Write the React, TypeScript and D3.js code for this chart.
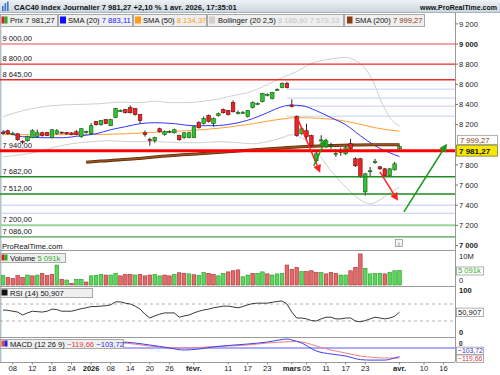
import React from "react";
import * as d3 from "d3";

// ---------- DATA ----------
const OPEN = [8122,8139,8110,8109,8035,8040,8070,8080,8119,8120,8070,8110,8125,8120,8118,8129,8080,8128,8109,8229,8199,8249,8189,8269,8336,8348,8368,8358,8299,8119,8052,8040,8159,8100,8128,8119,8090,8070,8070,8070,8219,8209,8289,8209,8289,8348,8338,8418,8316,8318,8279,8368,8406,8428,8496,8458,8540,8567,8607,8395,8279,8109,8139,8090,7841,8040,7980,7988,7908,7928,7910,8010,7861,7861,7532,7738,7829,7781,7761,7692,7751,7960];
const HIGH = [8140,8150,8130,8115,8045,8090,8155,8150,8130,8128,8155,8155,8130,8128,8125,8145,8165,8140,8215,8235,8245,8255,8258,8365,8350,8352,8390,8365,8305,8140,8070,8080,8170,8140,8145,8160,8100,8125,8130,8185,8235,8280,8300,8270,8320,8360,8345,8440,8340,8335,8345,8430,8420,8515,8510,8525,8560,8620,8625,8450,8290,8179,8209,8100,7930,8095,8060,8020,7940,7970,7985,8060,7875,7870,7720,7780,7860,7790,7770,7770,7830,7990];
const LOW = [8100,8100,8095,8040,8005,8030,8065,8075,8080,8085,8065,8100,8108,8100,8095,8095,8070,8110,8100,8190,8190,8205,8185,8265,8325,8310,8310,8290,8210,8080,7990,8020,8120,8090,8115,8110,8040,8060,8065,8065,8160,8200,8220,8180,8280,8310,8290,8320,8300,8305,8270,8360,8395,8420,8480,8450,8535,8560,8560,8370,8080,8100,8040,7980,7811,8020,7970,7960,7880,7890,7900,7950,7780,7670,7495,7680,7810,7750,7685,7685,7745,7950];
const CLOSE = [8116,8109,8113,8050,8025,8080,8139,8119,8090,8092,8149,8139,8115,8108,8100,8100,8159,8131,8189,8199,8239,8209,8249,8358,8340,8318,8318,8299,8239,8100,8048,8070,8129,8129,8130,8149,8050,8119,8119,8179,8169,8259,8229,8259,8308,8318,8299,8328,8320,8322,8338,8418,8410,8507,8500,8517,8550,8607,8567,8380,8090,8159,8080,7990,7910,8048,8040,7992,7912,7932,7970,7960,7791,7682,7711,7742,7833,7761,7692,7761,7811,7981.27];
// volume in millions, and colour flag (1 = green, 0 = red)
const VOLUME = [3.3,2.7,2.3,3.3,2.7,3.5,3.2,3.5,4.1,3.4,3.7,7.0,2.0,1.75,0.6,2.0,2.0,1.05,3.2,3.4,3.7,3.5,3.5,4.1,3.2,3.7,3.7,3.5,3.7,3.2,3.5,3.7,3.2,3.5,3.2,3.7,4.3,4.1,3.9,3.6,3.4,4.4,4.1,3.7,3.2,4.1,4.6,5.0,5.3,2.9,3.5,4.1,4.1,4.6,3.9,3.5,3.9,4.1,7.0,5.5,6.2,4.7,4.7,5.0,4.4,4.4,3.9,4.4,4.1,3.5,3.5,5.0,6.2,10.9,5.85,3.9,4.1,4.1,3.9,4.4,5.0,5.091];
const VOL_UP = [1,0,0,0,0,1,0,1,0,0,0,1,0,1,0,1,1,0,1,1,1,0,1,1,0,0,0,1,0,0,0,1,1,0,0,1,0,0,1,0,1,1,0,0,1,1,0,0,0,1,1,0,1,1,0,1,1,1,0,0,0,1,0,0,0,1,0,0,0,1,1,0,0,0,1,1,1,1,0,1,1,1];
const RSI = [56,55,53,51,44,49,53,52,51,53,58,57,53,53,53,56,59,61,64,64,65,66,68,75,75,72,70,65,58,46,37,42,46,49,49,49,39,42,44,49,53,56,58,61,63,65,65,63,61,64,68,71,72,72,72,74,76,77,70,51,37,37,35,31,30,35,39,39,35,35,37,37,30,28,31,35,39,37,35,37,41,50.907];
// [bar index, value]
const SMA20: [number, number][] = [[0,8139],[4,8080],[8,8070],[12,8070],[16,8090],[19,8109],[22,8149],[25,8179],[28,8209],[31,8219],[35,8209],[39,8189],[43,8189],[47,8209],[51,8259],[54,8318],[57,8378],[59,8393],[61,8388],[64,8338],[67,8269],[70,8199],[73,8090],[76,7990],[79,7920],[81,7883.11]];
const SMA50: [number, number][] = [[0,8100],[8,8100],[16,8100],[25,8109],[31,8124],[39,8144],[45,8169],[51,8209],[56,8249],[60,8269],[64,8264],[68,8249],[72,8214],[76,8169],[81,8134.37]];
const BB_UP: [number, number][] = [[0,8279],[4,8338],[7,8368],[10,8388],[14,8398],[20,8408],[24,8423],[28,8418],[31,8433],[34,8418],[38,8418],[41,8433],[44,8453],[47,8488],[50,8517],[54,8597],[57,8667],[60,8726],[63,8806],[67,8851],[70,8866],[72,8836],[74,8756],[76,8587],[77,8458],[78,8358],[79,8269],[80,8219],[81,8186.9]];
const BB_LO: [number, number][] = [[0,7881],[2,7891],[5,7910],[8,7940],[10,7970],[14,8010],[18,8030],[22,8040],[26,8030],[32,8030],[36,8020],[40,8020],[44,8030],[48,8020],[51,8010],[54,8030],[57,8070],[59,8100],[61,8070],[63,7990],[65,7871],[67,7741],[69,7632],[71,7532],[73,7453],[75,7413],[77,7453],[79,7522],[81,7579.33]];
const SMA200: [number, number][] = [[17,7826],[20,7838],[27,7861],[34,7891],[40,7910],[46,7930],[50,7945],[56,7965],[61,7980],[66,7990],[71,7997],[76,8000],[81,7999.27]];
const MACD_RED: [number, number][] = [[0,50],[6,50],[12,52],[18,58],[24,60],[30,24],[34,6],[37,0],[40,6],[43,18],[46,24],[50,36],[54,60],[57,72],[60,78],[62,60],[64,24],[67,-24],[70,-60],[73,-96],[76,-114],[78,-120],[81,-119.66]];
const MACD_BLUE: [number, number][] = [[0,55],[6,50],[12,55],[18,65],[24,72],[30,36],[34,0],[37,-24],[40,-12],[43,12],[46,30],[50,48],[54,72],[57,102],[58,108],[59,96],[61,60],[64,-36],[67,-72],[70,-96],[73,-139],[75,-145],[78,-145],[80,-120],[81,-103.72]];

const LEVELS = [
  { p: 9000, color: "#f5a3a3", w: 2 },
  { p: 8800, color: "#ee2a2a", w: 1.3 },
  { p: 8645, color: "#ee2a2a", w: 1.3 },
  { p: 7940, color: "#ff0000", w: 3 },
  { p: 7682, color: "#1f8a1f", w: 1.5 },
  { p: 7512, color: "#1f8a1f", w: 1.5 },
  { p: 7200, color: "#9ad49a", w: 2 },
  { p: 7086, color: "#4f9f4f", w: 1.3 },
];
const FIB_LEVELS = [8552, 8463, 8383, 8284];
const FIB_START = 58;
const BLUE_LEVELS = [7400, 7320];
const ARROWS = [
  { i0: 60.1, p0: 8269, i1: 64.8, p1: 7721, color: "#ff2020" },
  { i0: 63.5, p0: 7791, i1: 66.0, p1: 8060, color: "#1a9a1a" },
  { i0: 77.0, p0: 7731, i1: 80.7, p1: 7443, color: "#ff2020" },
  { i0: 81.9, p0: 7333, i1: 90.7, p1: 8010, color: "#1a9a1a" },
];
const PRICE_TICKS = [9200, 9000, 8800, 8600, 8400, 8200, 7800, 7600, 7400, 7200, 7000];
const X_TICK_IDX = [2, 6, 10, 14, 18, 22, 26, 30, 34, 39, 46, 50, 54, 59, 62, 66, 70, 74, 81, 86, 90];
const X_TICK_LBL = ["08", "12", "18", "24", "2026", "08", "14", "20", "26", "févr.", "11", "17", "23", "mars", "05", "11", "17", "23", "avr.", "10", "16"];
const X_TICK_BOLD = ["2026", "févr.", "mars", "avr."];

const LAST = { price: 7981.27, sma20: 7883.11, sma50: 8134.37, bbUp: 8186.9, bbLo: 7579.33, sma200: 7999.27, vol: "5 091k", rsi: 50.907, macd: -119.66, signal: -103.72 };

// ---------- CHART ----------
const FONT = "'Liberation Sans', Arial, sans-serif";
const locale = d3.formatLocale({ decimal: ",", thousands: " ", grouping: [3], currency: ["", ""], minus: "\u2212" });
const f0 = locale.format(",.0f");
const f2 = locale.format(",.2f");
const f3 = locale.format(".3f");

const AX = 455;

export default function App() {
  const x = d3.scaleLinear().domain([0, 81]).range([3, 399.5]);
  const yP = d3.scaleLinear().domain([7000, 9000]).range([245.5, 44]);
  const yV = d3.scaleLinear().domain([0, 10]).range([285, 256.5]);
  const yR = d3.scaleLinear().domain([0, 100]).range([333.75, 291.25]);
  const yM = d3.scaleLinear().domain([0, -120]).range([348, 358]);

  const priceLine = d3.line<[number, number]>().x(d => x(d[0])).y(d => yP(d[1])).curve(d3.curveMonotoneX);
  const macdLine = d3.line<[number, number]>().x(d => x(d[0])).y(d => yM(d[1])).curve(d3.curveMonotoneX);
  const rsiLine = d3.line<number>().x((_, i) => x(i)).y(d => yR(d));

  const cw = 3.6;
  const green = "#2fc42f";
  const red = "#ee2222";

  const arrowHead = (a: typeof ARROWS[0]) => {
    const x1 = x(a.i1), y1 = yP(a.p1), x0 = x(a.i0), y0 = yP(a.p0);
    const ang = Math.atan2(y1 - y0, x1 - x0);
    const L = 8, W = 4;
    const bx = x1 - L * Math.cos(ang), by = y1 - L * Math.sin(ang);
    const px = -Math.sin(ang) * W, py = Math.cos(ang) * W;
    return { line: [x0, y0, bx, by], pts: `${x1},${y1} ${bx + px},${by + py} ${bx - px},${by - py}` };
  };

  const legendBox = (x0: number, x1: number, y0: number, y1: number) => (
    <rect x={x0 + 0.5} y={y0 + 0.5} width={x1 - x0 - 1} height={y1 - y0} fill="#efefef" stroke="#a9a9a9" strokeWidth={1} />
  );

  const priceLabelY = yP(LAST.price) + 4;
  const smaLabelY = yP(LAST.sma200) - 5;
  const sigLabelY = yM(LAST.signal) - 5.5;
  const macdLabelY = yM(LAST.macd) + 0.5;

  return (
    <svg width={500} height={375} style={{ position: "absolute", left: 0, top: 0, background: "#fff" }} fontFamily={FONT}>
      <defs>
        <linearGradient id="tb" x1="0" y1="0" x2="0" y2="1">
          <stop offset="0" stopColor="#edf2f5" />
          <stop offset="1" stopColor="#c9d5dc" />
        </linearGradient>
        <clipPath id="mainClip"><rect x={0} y={27} width={AX} height={223} /></clipPath>
        <clipPath id="volClip"><rect x={0} y={250} width={AX} height={36} /></clipPath>
        <clipPath id="rsiClip"><rect x={0} y={286} width={AX} height={51} /></clipPath>
        <clipPath id="macdClip"><rect x={0} y={337} width={AX} height={25} /></clipPath>
      </defs>
      <rect x={0} y={0} width={500} height={375} fill="#fff" />

      {/* Title bar */}
      <rect x={0} y={0} width={500} height={12.5} fill="url(#tb)" />
      <line x1={0} y1={12.5} x2={500} y2={12.5} stroke="#a7b4bd" />
      <g fill="#3f78d0">
        <rect x={2} y={6} width={1.6} height={5} />
        <rect x={4.5} y={3} width={1.6} height={8} />
        <rect x={7} y={1.5} width={1.6} height={9.5} />
      </g>
      <text x={14} y={9.8} fontSize={7.6} fontWeight="bold" fill="#111">CAC40 Index Journalier 7 981,27 +2,10 % 1 avr. 2026, 17:35:01</text>
      <text x={497} y={9.8} fontSize={7} fontWeight="bold" fill="#111" textAnchor="end">www.ProRealTime.com</text>

      {/* Legend row */}
      {legendBox(0, 58, 14, 26)}
      <rect x={1.5} y={16.5} width={3} height={7} fill="#d42020" />
      <rect x={4.5} y={16.5} width={3} height={7} fill="#22b022" />
      <text x={10} y={23} fontSize={7.6} fill="#111">Prix {f2(LAST.price)}</text>
      {legendBox(58, 133, 14, 26)}
      <rect x={60} y={16.5} width={6} height={7} fill="#1010ff" />
      <text x={68} y={23} fontSize={7.6} fill="#111">SMA (20) <tspan fill="#1a1aff">{f2(LAST.sma20)}</tspan></text>
      {legendBox(133, 207, 14, 26)}
      <rect x={135} y={16.5} width={6} height={7} fill="#ff9a1a" />
      <text x={143} y={23} fontSize={7.6} fill="#111">SMA (50) <tspan fill="#ff9a1a">{f2(LAST.sma50)}</tspan></text>
      {legendBox(207, 344, 14, 26)}
      <rect x={209} y={16.5} width={6} height={7} fill="#cfcfcf" />
      <text x={218} y={23} fontSize={7.6} fill="#111">Bollinger (20 2,5) <tspan fill="#c4c4c4">{f2(LAST.bbUp)} {f2(LAST.bbLo)}</tspan></text>
      {legendBox(344, 425, 14, 26)}
      <rect x={347} y={16.5} width={5.5} height={7} fill="#8a3a0e" />
      <text x={355} y={23} fontSize={7.6} fill="#111">SMA (200) <tspan fill="#8a3a0e">{f2(LAST.sma200)}</tspan></text>

      {/* left edge strip */}
      <rect x={0} y={26} width={1.5} height={336} fill="#b4c2cc" />

      {/* Main price panel */}
      <g clipPath="url(#mainClip)">
        {FIB_LEVELS.map(p => (
          <line key={p} x1={x(FIB_START)} x2={AX} y1={yP(p)} y2={yP(p)} stroke="#c6d0f0" strokeWidth={1} />
        ))}
        {BLUE_LEVELS.map(p => (
          <line key={p} x1={0} x2={AX} y1={yP(p)} y2={yP(p)} stroke="#c0caee" strokeWidth={1} />
        ))}
        <path d={priceLine(BB_UP) || ""} fill="none" stroke="#cfcfcf" strokeWidth={1} />
        <path d={priceLine(BB_LO) || ""} fill="none" stroke="#cfcfcf" strokeWidth={1} />
        <path d={priceLine(SMA50) || ""} fill="none" stroke="#ffa030" strokeWidth={1} />
        <path d={priceLine(SMA20) || ""} fill="none" stroke="#3535ff" strokeWidth={1} />
        <path d={priceLine(SMA200) || ""} fill="none" stroke="#5a2a08" strokeWidth={3} />
        <path d={priceLine(SMA200) || ""} fill="none" stroke="#9a5420" strokeWidth={1.4} />
        {OPEN.map((o, i) => {
          const c = CLOSE[i];
          const up = c >= o;
          const top = yP(Math.max(o, c));
          const h = Math.max(1, yP(Math.min(o, c)) - top);
          const cx = x(i);
          return (
            <g key={i}>
              <line x1={cx} x2={cx} y1={yP(HIGH[i])} y2={yP(LOW[i])} stroke="#111" strokeWidth={0.9} />
              <rect x={cx - cw / 2} y={top} width={cw} height={h} fill={up ? green : red} stroke={up ? "#145a14" : "#6a0c0c"} strokeWidth={0.6} />
            </g>
          );
        })}
        {LEVELS.map(l => (
          <line key={l.p} x1={0} x2={AX} y1={yP(l.p)} y2={yP(l.p)} stroke={l.color} strokeWidth={l.w} />
        ))}
        {LEVELS.map(l => (
          <text key={"t" + l.p} x={2.5} y={yP(l.p) - 3} fontSize={7.6} fill="#111">{f2(l.p)}</text>
        ))}
        {ARROWS.map((a, k) => {
          const h = arrowHead(a);
          return (
            <g key={k}>
              <line x1={h.line[0]} y1={h.line[1]} x2={h.line[2]} y2={h.line[3]} stroke={a.color} strokeWidth={1.5} />
              <polygon points={h.pts} fill={a.color} />
            </g>
          );
        })}
      </g>
      <text x={2} y={248.5} fontSize={7.6} fill="#111">ProRealTime.com</text>
      <rect x={395.5} y={239.5} width={7} height={7} fill="#f4f4f4" stroke="#9a9a9a" strokeWidth={0.8} />
      <text x={399} y={245.5} fontSize={6} fill="#555" textAnchor="middle">i</text>

      {/* Panel separators */}
      {[250, 286, 337, 362].map(yy => (
        <line key={yy} x1={0} x2={AX} y1={yy + 0.5} y2={yy + 0.5} stroke="#9a9a9a" strokeWidth={1} />
      ))}

      {/* Volume panel */}
      <g clipPath="url(#volClip)">
        {VOLUME.map((v, i) => (
          <rect key={i} x={x(i) - cw / 2} y={yV(v)} width={cw} height={yV(0) - yV(v)}
            fill={VOL_UP[i] ? "#5ad65a" : "#e46a6a"} stroke={VOL_UP[i] ? "#2b9a2b" : "#a83030"} strokeWidth={0.6} />
        ))}
      </g>
      {legendBox(0, 66, 253, 262)}
      <rect x={1.5} y={254.5} width={3} height={6} fill="#d42020" />
      <rect x={4.5} y={254.5} width={3} height={6} fill="#22b022" />
      <text x={10} y={260.5} fontSize={7.6} fill="#111">Volume <tspan fill="#2eaa2e">{LAST.vol}</tspan></text>

      {/* RSI panel */}
      <g clipPath="url(#rsiClip)">
        {[70, 30].map(l => (
          <line key={l} x1={0} x2={AX} y1={yR(l)} y2={yR(l)} stroke="#a0a0a0" strokeWidth={0.8} strokeDasharray="3,3" />
        ))}
        <path d={rsiLine(RSI) || ""} fill="none" stroke="#222" strokeWidth={0.9} />
      </g>
      {legendBox(0, 93, 288, 297)}
      <rect x={1.5} y={289.5} width={6} height={6} fill="#111" />
      <text x={10} y={295.5} fontSize={7.6} fill="#111">RSI (14) {f3(LAST.rsi)}</text>

      {/* MACD panel */}
      <g clipPath="url(#macdClip)">
        <line x1={0} x2={AX} y1={yM(0)} y2={yM(0)} stroke="#5a5aff" strokeWidth={1} />
        <path d={macdLine(MACD_RED) || ""} fill="none" stroke="#f08080" strokeWidth={1} />
        <path d={macdLine(MACD_BLUE) || ""} fill="none" stroke="#4040e8" strokeWidth={1} />
      </g>
      {legendBox(0, 124, 339, 348)}
      <rect x={1.5} y={340.5} width={3} height={6} fill="#e04040" />
      <rect x={4.5} y={340.5} width={3} height={6} fill="#2020e0" />
      <text x={10} y={346.5} fontSize={7.6} fill="#111">MACD (12 26 9) <tspan fill="#e04040">{f2(LAST.macd)}</tspan> <tspan fill="#3030e0">{f2(LAST.signal)}</tspan></text>

      {/* Right axis */}
      <line x1={AX + 0.5} x2={AX + 0.5} y1={13} y2={362} stroke="#9a9a9a" strokeWidth={1} />
      {PRICE_TICKS.map(p => (
        <g key={p}>
          <line x1={AX} x2={AX + 3} y1={yP(p)} y2={yP(p)} stroke="#777" />
          <text x={AX + 4} y={yP(p) + 2.7} fontSize={7.6} fill="#222" fontWeight={p === 9000 || p === 7000 ? "bold" : "normal"}>{f0(p)}</text>
        </g>
      ))}
      {/* SMA200 label */}
      <rect x={457.5} y={smaLabelY - 4.5} width={40} height={9} fill="#fff" stroke="#9a9a9a" strokeWidth={0.8} />
      <text x={460} y={smaLabelY + 2.7} fontSize={7.6} fill="#8a3a0e">{f2(LAST.sma200)}</text>
      {/* Price label */}
      <rect x={456.5} y={priceLabelY - 5.5} width={41} height={11} fill="#f7e600" stroke="#7a7a40" strokeWidth={0.8} />
      <text x={459} y={priceLabelY + 3} fontSize={8} fontWeight="bold" fill="#111">{f2(LAST.price)}</text>

      {/* Volume axis */}
      <text x={AX + 4} y={yV(10) + 2.7} fontSize={7.6} fill="#222">10M</text>
      <text x={AX + 4} y={yV(0) - 2} fontSize={7.6} fill="#222">0</text>
      <rect x={456.5} y={yV(5.091) - 3.5} width={27} height={8} fill="#fff" stroke="#9a9a9a" strokeWidth={0.8} />
      <text x={458} y={yV(5.091) + 3} fontSize={7.6} fill="#2eaa2e">{LAST.vol}</text>

      {/* RSI axis */}
      <text x={AX + 4} y={yR(100) + 2} fontSize={7.6} fill="#222" fontWeight="bold">100</text>
      <text x={AX + 4} y={yR(0) + 1} fontSize={7.6} fill="#222" fontWeight="bold">0</text>
      <rect x={456.5} y={yR(LAST.rsi) - 4} width={27} height={8.5} fill="#fff" stroke="#9a9a9a" strokeWidth={0.8} />
      <text x={458} y={yR(LAST.rsi) + 2.8} fontSize={7.6} fill="#222">{f3(LAST.rsi)}</text>

      {/* MACD axis */}
      <text x={AX + 4} y={yM(0) - 2.5} fontSize={6.5} fill="#222" fontWeight="bold">0</text>
      <rect x={456.5} y={sigLabelY - 4} width={27} height={7.5} fill="#fff" stroke="#9a9a9a" strokeWidth={0.8} />
      <text x={458} y={sigLabelY + 2.2} fontSize={6.8} fill="#3030e0">{f2(LAST.signal)}</text>
      <rect x={456.5} y={macdLabelY - 3.5} width={27} height={7.5} fill="#fff" stroke="#9a9a9a" strokeWidth={0.8} />
      <text x={458} y={macdLabelY + 2.5} fontSize={6.8} fill="#e04040">{f2(LAST.macd)}</text>

      {/* X axis */}
      {X_TICK_IDX.map((ti, k) => (
        <g key={k}>
          <line x1={x(ti)} x2={x(ti)} y1={362} y2={364.5} stroke="#888" />
          <text x={x(ti)} y={371} fontSize={7.6} textAnchor="middle" fill="#222"
            fontWeight={X_TICK_BOLD.includes(X_TICK_LBL[k]) ? "bold" : "normal"}>{X_TICK_LBL[k]}</text>
        </g>
      ))}
    </svg>
  );
}
